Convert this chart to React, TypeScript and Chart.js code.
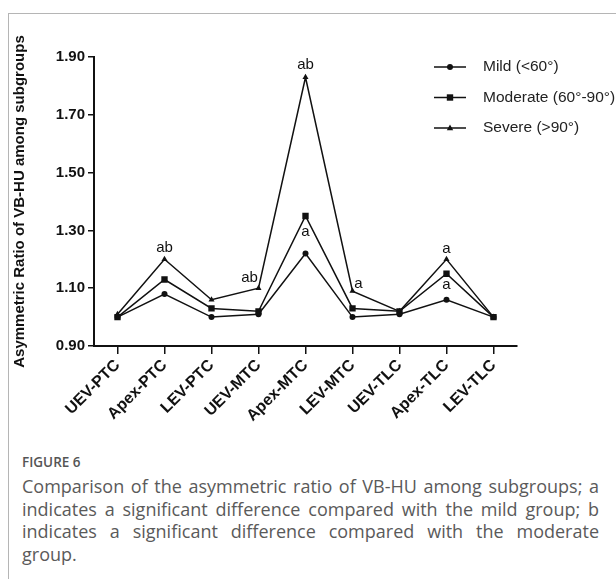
import React, { useEffect, useRef } from "react";
import { Chart, registerables } from "chart.js";
Chart.register(...registerables);

const categories = ["UEV-PTC", "Apex-PTC", "LEV-PTC", "UEV-MTC", "Apex-MTC", "LEV-MTC", "UEV-TLC", "Apex-TLC", "LEV-TLC"];
const mild = [1.0, 1.08, 1.0, 1.01, 1.22, 1.0, 1.01, 1.06, 1.0];
const moderate = [1.0, 1.13, 1.03, 1.02, 1.35, 1.03, 1.02, 1.15, 1.0];
const severe = [1.01, 1.2, 1.06, 1.1, 1.83, 1.09, 1.02, 1.2, 1.0];
const seriesNames = ["Mild (<60°)", "Moderate (60°-90°)", "Severe (>90°)"];
const pointStyles = ["circle", "rect", "triangle"];
const yMin = 0.9;
const yMax = 1.9;
const yStep = 0.2;
const yTitle = "Asymmetric Ratio of VB-HU among subgroups";
// significance letters: [datasetIndex, categoryIndex, text]
const sigLetters: [number, number, string][] = [
  [2, 1, "ab"],
  [2, 3, "ab"],
  [2, 4, "ab"],
  [1, 4, "a"],
  [2, 5, "a"],
  [2, 7, "a"],
  [1, 7, "a"],
];
const sigOffsets: [number, number][] = [
  [0, -11],
  [-9, -10],
  [0, -12],
  [0, 16],
  [6, -7],
  [0, -10],
  [0, 11],
];

const FONT = "'Liberation Sans', Arial, sans-serif";

function drawMarker(ctx: CanvasRenderingContext2D, style: string, x: number, y: number) {
  ctx.beginPath();
  if (style === "circle") {
    ctx.arc(x, y, 3, 0, Math.PI * 2);
  } else if (style === "rect") {
    ctx.rect(x - 3.2, y - 3.2, 6.4, 6.4);
  } else {
    ctx.moveTo(x, y - 3.5);
    ctx.lineTo(x + 3.2, y + 2.2);
    ctx.lineTo(x - 3.2, y + 2.2);
    ctx.closePath();
  }
  ctx.fill();
}

const overlayPlugin = {
  id: "overlay",
  afterDatasetsDraw(chart: any) {
    const ctx = chart.ctx as CanvasRenderingContext2D;
    ctx.save();
    ctx.fillStyle = "#111";
    ctx.font = `15px ${FONT}`;
    ctx.textAlign = "center";
    ctx.textBaseline = "middle";
    sigLetters.forEach(([ds, idx, text], i) => {
      const el = chart.getDatasetMeta(ds).data[idx];
      const [dx, dy] = sigOffsets[i];
      ctx.fillText(text, el.x + dx, el.y + dy);
    });
    // legend
    seriesNames.forEach((name, i) => {
      const y = 67 + i * 30.5;
      ctx.strokeStyle = "#111";
      ctx.lineWidth = 1.5;
      ctx.beginPath();
      ctx.moveTo(434, y);
      ctx.lineTo(466, y);
      ctx.stroke();
      ctx.fillStyle = "#111";
      drawMarker(ctx, pointStyles[i], 450, y);
      ctx.textAlign = "left";
      ctx.font = `15.5px ${FONT}`;
      ctx.fillStyle = "#222";
      ctx.fillText(name, 483, y);
    });
    ctx.restore();
  },
};

export default function App() {
  const ref = useRef<HTMLCanvasElement>(null);
  useEffect(() => {
    if (!ref.current) return;
    const series = [mild, moderate, severe];
    const chart = new Chart(ref.current, {
      type: "line",
      data: {
        labels: categories,
        datasets: series.map((d, i) => ({
          label: seriesNames[i],
          data: d,
          borderColor: "#111",
          backgroundColor: "#111",
          borderWidth: 1.5,
          pointStyle: pointStyles[i] as any,
          pointRadius: i === 1 ? 4.5 : i === 0 ? 3 : 3.5,
          pointBackgroundColor: "#111",
          pointBorderWidth: 0,
          tension: 0,
        })),
      },
      options: {
        animation: false,
        responsive: false,
        maintainAspectRatio: false,
        layout: { padding: { left: 8, top: 57, right: 99, bottom: 0 } },
        plugins: { legend: { display: false }, tooltip: { enabled: false } },
        scales: {
          x: {
            type: "category",
            offset: true,
            afterFit: (s: any) => {
              s.height = 94;
            },
            grid: {
              display: true,
              drawOnChartArea: false,
              drawTicks: true,
              tickLength: 8,
              offset: false,
              color: "#111",
              lineWidth: 1.5,
            },
            border: { display: true, color: "#111", width: 2 },
            ticks: {
              color: "#111",
              font: { family: FONT, size: 16, weight: "bold" },
              minRotation: 45,
              maxRotation: 45,
              autoSkip: false,
              padding: 2,
            },
          },
          y: {
            min: yMin,
            max: yMax,
            afterFit: (s: any) => {
              s.width = 86;
            },
            grid: {
              display: true,
              drawOnChartArea: false,
              drawTicks: true,
              tickLength: 6,
              color: "#111",
              lineWidth: 1.5,
            },
            border: { display: true, color: "#111", width: 2 },
            ticks: {
              stepSize: yStep,
              color: "#111",
              font: { family: FONT, size: 15, weight: "bold" },
              padding: 3,
              callback: (v: any) => Number(v).toFixed(2),
            },
            title: {
              display: true,
              text: yTitle,
              color: "#111",
              font: { family: FONT, size: 15, weight: "bold" },
              padding: { top: 3, bottom: 0 },
            },
          },
        },
      },
      plugins: [overlayPlugin],
    });
    return () => chart.destroy();
  }, []);

  return (
    <div style={{ position: "absolute", left: 0, top: 0, width: 616, height: 579, background: "#fff", overflow: "hidden" }}>
      <div
        style={{
          position: "absolute",
          left: 8,
          top: 13,
          width: 620,
          height: 580,
          borderTop: "1px solid #b5b5b5",
          borderLeft: "1px solid #b5b5b5",
        }}
      />
      <canvas ref={ref} width={616} height={440} style={{ position: "absolute", left: 0, top: 0, width: 616, height: 440 }} />
      <div
        style={{
          position: "absolute",
          left: 22,
          top: 453,
          fontFamily: "'Open Sans', sans-serif",
          fontSize: 13.5,
          fontWeight: 600,
          color: "#555",
          whiteSpace: "nowrap",
        }}
      >
        FIGURE 6
      </div>
      <div
        style={{
          position: "absolute",
          left: 22,
          top: 475,
          width: 577,
          fontFamily: "'Open Sans', sans-serif",
          fontSize: 18,
          lineHeight: "22.5px",
          color: "#5a5a5a",
          textAlign: "justify",
        }}
      >
        Comparison of the asymmetric ratio of VB-HU among subgroups; a indicates a significant difference compared with the mild group; b indicates a significant difference compared with the moderate group.
      </div>
    </div>
  );
}
